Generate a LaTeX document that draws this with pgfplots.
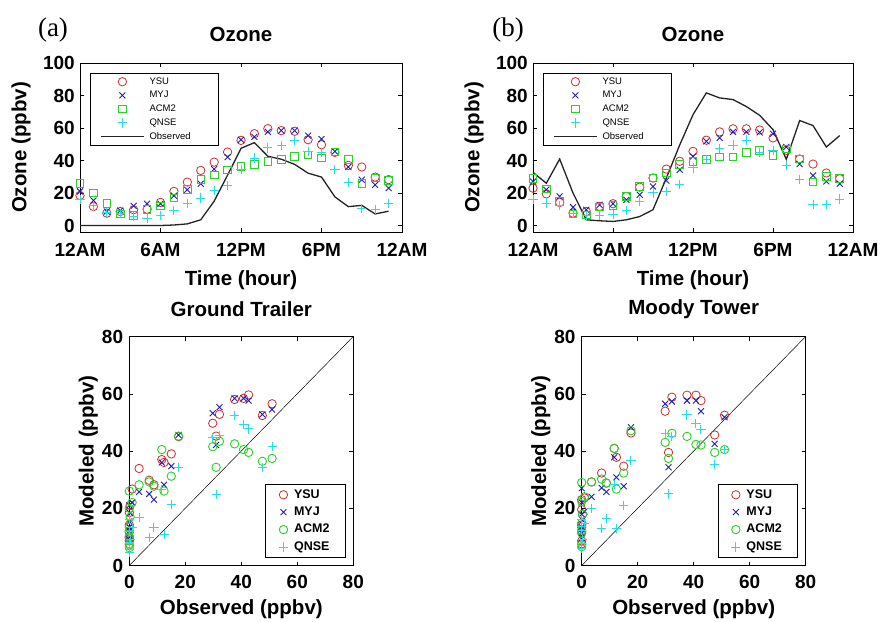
\documentclass[border=0pt]{standalone}
\usepackage{fontspec}
\setmainfont{Liberation Sans}
\newfontfamily\abcfont{Liberation Serif}
\usepackage{pgfplots}
\usepackage{pgfplotstable}
\pgfplotsset{compat=1.18}

\definecolor{cysu}{RGB}{205,45,45}
\definecolor{cmyj}{RGB}{30,30,180}
\definecolor{cacm}{RGB}{40,210,40}
\definecolor{cqns}{RGB}{40,220,230}
\definecolor{cobs}{RGB}{35,35,35}

\pgfplotstableread{
h obsA ysuA myjA acmA qnsA ysuB myjB acmB qnsB obsB
0 0 18.5 21.0 26.0 16.0 23.0 27.0 29.0 16.2 32.7
1 0 11.7 15.4 20.0 12.0 19.5 22.0 22.4 13.8 26.0
2 0 7.6 8.6 13.4 8.0 14.2 17.9 14.8 12.1 40.9
3 0 8.6 9.2 7.2 7.6 7.6 11.3 7.2 7.6 20.0
4 0 9.7 12.1 6.2 5.5 8.6 9.7 6.6 6.0 3.5
5 0 10.0 13.4 10.0 4.5 11.7 12.7 11.3 6.0 2.9
6 0 14.2 13.4 12.1 6.2 13.4 13.4 12.3 7.0 2.5
7 0.3 21.0 18.3 16.9 9.2 17.9 15.8 17.9 9.0 3.5
8 1.0 26.7 22.0 22.0 13.4 23.6 18.9 24.0 14.8 5.5
9 3.5 33.9 25.7 28.2 16.9 29.2 24.0 29.2 20.0 9.7
10 15.0 39.0 34.7 31.2 21.4 34.7 27.7 32.3 21.0 29.2
11 31.0 45.2 42.1 34.3 24.7 39.5 34.3 37.4 25.0 49.5
12 47.5 52.4 52.8 36.4 34.3 45.6 42.5 39.5 35.4 68.2
13 51.0 56.5 54.5 37.4 41.5 52.5 51.8 40.5 40.5 81.6
14 42.6 59.6 57.6 39.5 47.7 57.6 53.9 42.1 47.5 78.5
15 40.8 58.4 58.4 40.5 49.3 59.5 57.6 42.3 49.5 77.5
16 37.6 58.0 58.4 42.5 52.4 59.5 57.6 45.1 52.6 73.2
17 32.2 52.8 55.3 43.4 45.5 58.8 57.3 46.2 45.0 67.8
18 29.8 49.7 53.2 41.5 44.8 53.9 56.5 43.0 46.0 59.0
19 17.6 45.0 45.6 45.2 34.3 46.3 48.3 47.1 36.8 40.7
20 11.6 37.0 36.0 40.5 26.5 40.9 37.8 40.9 28.2 64.6
21 12.4 36.0 28.2 26.0 10.7 37.8 30.8 26.7 12.8 61.5
22 7.1 29.8 25.0 29.2 9.7 32.3 27.1 30.2 12.8 48.3
23 8.8 28.2 23.0 27.7 13.4 28.8 25.7 28.8 16.3 55.3
}\data

\newcommand\lblfont{\fontsize{20.5}{20.5}\selectfont\bfseries}

\pgfplotsset{
  base/.style={
    scale only axis, clip=false,
    axis line style={line width=0.6pt, black},
    tick align=inside, major tick length=4pt,
    tick style={line width=0.5pt, black},
    /pgf/number format/assume math mode=true,
    tick label style={font=\fontsize{19}{19}\selectfont\bfseries, inner sep=0pt},
    title style={font=\lblfont, at={(0.5,1)}, anchor=center, inner sep=0pt},
    xticklabel style={anchor=north},
    yticklabel style={anchor=east, xshift=-5pt},
    legend cell align=left,
    legend image code/.code={\draw[mark repeat=2,mark phase=2,#1] plot coordinates {(0pt,0pt) (21.5pt,0pt) (43pt,0pt)};},
  },
  ts/.style={base,
    width=320pt, height=169pt,
    xmin=0, xmax=24, ymin=-4, ymax=100,
    xtick={0,6,12,18,24}, xticklabels={12AM,6AM,12PM,6PM,12AM},
    ytick={0,20,40,60,80,100},
    xticklabel style={yshift=-11pt},
    title style={yshift=23pt},
    every axis x label/.style={at={(axis description cs:0.5,0)}, yshift=-48pt, anchor=center, font=\lblfont, inner sep=0pt},
    every axis y label/.style={at={(axis description cs:0,0.5)}, xshift=-59pt, rotate=90, anchor=center, font=\lblfont, inner sep=0pt},
    xlabel={Time (hour)}, ylabel={Ozone (ppbv)}, title={Ozone},
    legend style={at={(0,1)}, anchor=north west, xshift=10pt, yshift=-10pt,
      draw=black, line width=0.5pt, fill=white,
      font=\fontsize{9.5}{9.5}\selectfont,
      inner xsep=10pt, inner ysep=4pt, row sep=4.7pt, column sep=5pt,
      nodes={inner sep=0pt, text height=7pt, text depth=2pt}, cells={anchor=west}},
  },
  sc/.style={base,
    width=224pt, height=229pt,
    xmin=0, xmax=80, ymin=0, ymax=80,
    xtick={0,20,40,60,80}, ytick={0,20,40,60,80},
    xticklabel style={yshift=-10pt},
    yticklabel style={xshift=-1pt},
    title style={yshift=21.5pt},
    every axis x label/.style={at={(axis description cs:0.5,0)}, yshift=-43.5pt, anchor=center, font=\lblfont, inner sep=0pt},
    every axis y label/.style={at={(axis description cs:0,0.5)}, xshift=-41pt, rotate=90, anchor=center, font=\lblfont, inner sep=0pt},
    xlabel={Observed (ppbv)}, ylabel={Modeled (ppbv)},
    legend style={at={(1,0)}, anchor=south east, xshift=-8pt, yshift=8pt,
      draw=black, line width=0.5pt, fill=white,
      font=\fontsize{12.5}{12.5}\selectfont\bfseries,
      inner xsep=13.5pt, inner ysep=4pt, row sep=4.9pt, column sep=6pt,
      nodes={inner sep=0pt, text height=9.5pt, text depth=3pt}, cells={anchor=west}},
  },
  mysu/.style={only marks, mark=o, mark size=4.2pt, color=cysu, mark options={line width=0.8pt, draw=cysu}},
  mmyj/.style={only marks, mark=x, mark size=4.2pt, color=cmyj, mark options={line width=0.9pt, draw=cmyj}},
  macmsq/.style={only marks, mark=square, mark size=3.8pt, color=cacm, mark options={line width=0.9pt, draw=cacm}},
  macmci/.style={only marks, mark=o, mark size=4.2pt, color=cacm, mark options={line width=0.9pt, draw=cacm}},
  mqns/.style={only marks, mark=+, mark size=4.6pt, color=cqns, mark options={line width=1pt, draw=cqns}},
  lobs/.style={no marks, color=cobs, line width=1.3pt},
}

\begin{document}
\begin{tikzpicture}[x=1pt,y=1pt]
\useasboundingbox (0,0) rectangle (882,621);
\node[font=\abcfont\fontsize{27}{27}\selectfont, inner sep=0pt] at (53,591) {(a)};
\node[font=\abcfont\fontsize{27}{27}\selectfont, inner sep=0pt] at (508,591) {(b)};

% (a) time series
\begin{axis}[ts, at={(80pt,389pt)}, anchor=south west, width=322pt]
\addplot[mysu] table[x=h, y=ysuA] {\data};
\addlegendentry{\makebox[59pt][l]{YSU}}
\addplot[mmyj] table[x=h, y=myjA] {\data};
\addlegendentry{\makebox[59pt][l]{MYJ}}
\addplot[macmsq] table[x=h, y=acmA] {\data};
\addlegendentry{\makebox[59pt][l]{ACM2}}
\addplot[mqns] table[x=h, y=qnsA] {\data};
\addlegendentry{\makebox[59pt][l]{QNSE}}
\addplot[lobs] table[x=h, y=obsA] {\data};
\addlegendentry{\makebox[59pt][l]{Observed}}
\end{axis}

% (b) time series
\begin{axis}[ts, at={(533pt,389pt)}, anchor=south west]
\addplot[mysu] table[x=h, y=ysuB] {\data};
\addlegendentry{\makebox[59pt][l]{YSU}}
\addplot[mmyj] table[x=h, y=myjB] {\data};
\addlegendentry{\makebox[59pt][l]{MYJ}}
\addplot[macmsq] table[x=h, y=acmB] {\data};
\addlegendentry{\makebox[59pt][l]{ACM2}}
\addplot[mqns] table[x=h, y=qnsB] {\data};
\addlegendentry{\makebox[59pt][l]{QNSE}}
\addplot[lobs] table[x=h, y=obsB] {\data};
\addlegendentry{\makebox[59pt][l]{Observed}}
\end{axis}

% Ground Trailer scatter
\begin{axis}[sc, at={(129.3pt,55.5pt)}, anchor=south west, title={Ground Trailer}]
\addplot[black, line width=0.5pt, forget plot] coordinates {(0,0) (80,80)};
\addplot[mysu] table[x=obsA, y=ysuA] {\data};
\addlegendentry{\makebox[37.5pt][l]{YSU}}
\addplot[mmyj] table[x=obsA, y=myjA] {\data};
\addlegendentry{\makebox[37.5pt][l]{MYJ}}
\addplot[macmci] table[x=obsA, y=acmA] {\data};
\addlegendentry{\makebox[37.5pt][l]{ACM2}}
\addplot[mqns] table[x=obsA, y=qnsA] {\data};
\addlegendentry{\makebox[37.5pt][l]{QNSE}}
\end{axis}

% Moody Tower scatter
\begin{axis}[sc, at={(581.7pt,55.5pt)}, anchor=south west, title={Moody Tower}]
\addplot[black, line width=0.5pt, forget plot] coordinates {(0,0) (80,80)};
\addplot[mysu] table[x=obsA, y=ysuB] {\data};
\addlegendentry{\makebox[37.5pt][l]{YSU}}
\addplot[mmyj] table[x=obsA, y=myjB] {\data};
\addlegendentry{\makebox[37.5pt][l]{MYJ}}
\addplot[macmci] table[x=obsA, y=acmB] {\data};
\addlegendentry{\makebox[37.5pt][l]{ACM2}}
\addplot[mqns] table[x=obsA, y=qnsB] {\data};
\addlegendentry{\makebox[37.5pt][l]{QNSE}}
\end{axis}
\end{tikzpicture}
\end{document}
